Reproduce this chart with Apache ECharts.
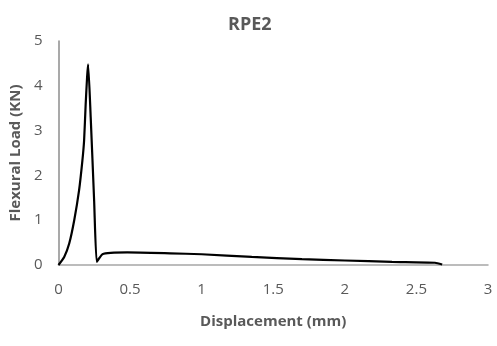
<!DOCTYPE html>
<html><head><meta charset="utf-8">
<script src="https://cdn.jsdelivr.net/npm/echarts@6/dist/echarts.min.js"></script>
<style>html,body{margin:0;padding:0;background:#fff}#c{width:497px;height:346px}</style>
</head><body><div id="c"></div>
<script>
const displacement = [0, 0.04, 0.075, 0.11, 0.144, 0.167, 0.179, 0.19, 0.2, 0.207, 0.225, 0.249, 0.267, 0.284, 0.307, 0.365, 0.48, 0.78, 1.0, 1.35, 1.70, 2.0, 2.33, 2.63, 2.68];
const load = [0, 0.18, 0.48, 1.0, 1.67, 2.33, 2.78, 3.59, 4.2, 4.48, 3.3, 1.44, 0.07, 0.15, 0.24, 0.27, 0.28, 0.26, 0.24, 0.18, 0.13, 0.1, 0.07, 0.05, 0.01];
const xTicks = [0, 0.5, 1, 1.5, 2, 2.5, 3];
const yTicks = [0, 1, 2, 3, 4, 5];
const titleText = 'RPE2';
const xName = 'Displacement (mm)';
const yName = 'Flexural Load (KN)';

const font = '"Open Sans", sans-serif';
const chart = echarts.init(document.getElementById('c'), null, {renderer: 'canvas'});
chart.setOption({
  animation: false,
  title: {text: titleText, left: 223, top: 11, textStyle: {fontFamily: font, fontSize: 18, fontWeight: 'bold', color: '#595959'}},
  grid: {left: 56, right: 9, top: 41, bottom: 81, containLabel: false},
  xAxis: {
    type: 'value', min: 0, max: 3, interval: 0.5,
    name: xName, nameLocation: 'middle', nameGap: 49,
    nameTextStyle: {fontFamily: font, fontSize: 15, fontWeight: 'bold', color: '#595959'},
    axisLine: {show: true, lineStyle: {color: '#a6a6a6', width: 1.5}},
    axisTick: {show: false}, splitLine: {show: false},
    axisLabel: {margin: 17, fontFamily: font, fontSize: 15, color: '#595959',
      formatter: v => xTicks.includes(v) ? String(v) : ''}
  },
  yAxis: {
    type: 'value', min: 0, max: 5, interval: 1,
    name: yName, nameLocation: 'middle', nameGap: 25,
    nameTextStyle: {fontFamily: font, fontSize: 15, fontWeight: 'bold', color: '#595959'},
    axisLine: {show: true, lineStyle: {color: '#8c8c8c', width: 1.5}},
    axisTick: {show: false}, splitLine: {show: false},
    axisLabel: {margin: 16, fontFamily: font, fontSize: 15, color: '#595959',
      formatter: v => yTicks.includes(v) ? String(v) : ''}
  },
  series: [{
    type: 'line', data: displacement.map((x, i) => [x, load[i]]),
    showSymbol: false, smooth: 0.2,
    lineStyle: {color: '#000', width: 2.2}
  }]
});
</script></body></html>
